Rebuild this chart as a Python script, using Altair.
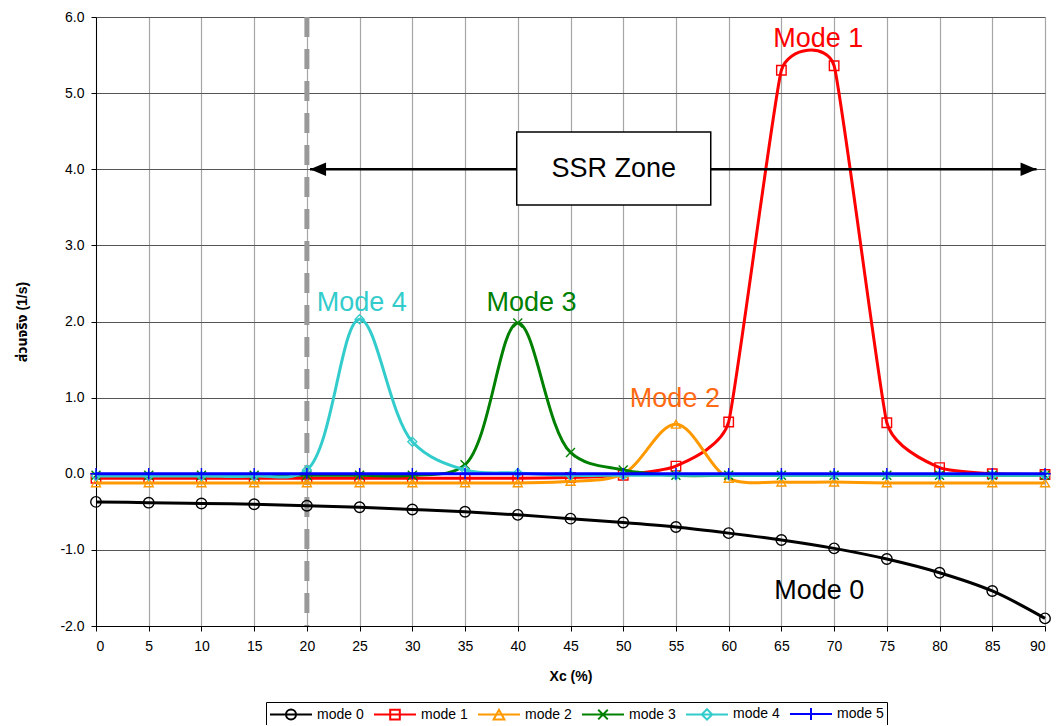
import altair as alt
import pandas as pd

# ---------------- data ----------------
xc = [0, 5, 10, 15, 20, 25, 30, 35, 40, 45, 50, 55, 60, 65, 70, 75, 80, 85, 90]
mode0 = [-0.37, -0.38, -0.39, -0.40, -0.42, -0.44, -0.47, -0.50, -0.54, -0.59,
         -0.64, -0.70, -0.78, -0.87, -0.98, -1.12, -1.30, -1.54, -1.90]
mode1 = [-0.06, -0.06, -0.06, -0.06, -0.06, -0.06, -0.06, -0.06, -0.06, -0.05,
         -0.02, 0.10, 0.68, 5.30, 5.36, 0.67, 0.08, 0.00, -0.01]
mode2 = [-0.12, -0.12, -0.12, -0.12, -0.12, -0.12, -0.12, -0.12, -0.12, -0.10,
         0.00, 0.65, -0.06, -0.11, -0.11, -0.12, -0.12, -0.12, -0.12]
mode3 = [-0.02, -0.02, -0.02, -0.02, -0.02, -0.02, -0.02, 0.12, 1.98, 0.28,
         0.05, -0.02, -0.02, -0.02, -0.02, -0.02, -0.02, -0.02, -0.02]
mode4 = [-0.03, -0.03, -0.03, -0.03, 0.05, 2.03, 0.42, 0.05, 0.01, -0.02,
         -0.02, -0.02, -0.02, -0.02, -0.02, -0.02, -0.02, -0.02, -0.02]
mode5 = [0.00] * 19

series_names = ["mode 0", "mode 1", "mode 2", "mode 3", "mode 4", "mode 5"]
series_values = [mode0, mode1, mode2, mode3, mode4, mode5]
series_colors = ["#000000", "#FF0000", "#FF9900", "#008000", "#33CCCC", "#0000FF"]
# smoothing style per series (Excel-like smoothed lines)
series_curve = [("catmull-rom", None), ("cardinal", 0.6), ("catmull-rom", None),
                ("catmull-rom", None), ("catmull-rom", None), ("catmull-rom", None)]
marker_shapes = ["circle", "square", "triangle-up",
                 "M-1,-1L1,1M-1,1L1,-1", "diamond", "M0,-1.2L0,1.2M-1.2,0L1.2,0"]
marker_sizes = [110, 90, 80, 80, 80, 90]
# legend glyphs: line segment + marker (scaled 8 px per unit, symbolSize 256)
legend_shapes = [
    "M-1,0L4.25,0M2.25,0A0.625,0.625 0 1,1 1,0A0.625,0.625 0 1,1 2.25,0",
    "M-1,0L4.25,0M1.025,-0.6L2.225,-0.6L2.225,0.6L1.025,0.6Z",
    "M-1,0L4.25,0M1.625,-0.6L2.3,0.6L0.95,0.6Z",
    "M-1,0L4.25,0M1.025,-0.6L2.225,0.6M1.025,0.6L2.225,-0.6",
    "M-1,0L4.25,0M1.625,-0.65L2.275,0L1.625,0.65L0.975,0Z",
    "M-1,0L4.25,0M1.625,-0.75L1.625,0.75",
]

y_ticks = [-2, -1, 0, 1, 2, 3, 4, 5, 6]

# annotations
label_text = ["Mode 1", "Mode 2", "Mode 3", "Mode 4", "Mode 0"]
label_x = [68.5, 54.9, 41.3, 25.2, 68.6]
label_y = [5.60, 0.88, 2.14, 2.14, -1.64]
label_color = ["#FF0000", "#FF6A13", "#008000", "#33CCCC", "#000000"]

ssr_text = "SSR Zone"
ssr_box_x = [39.9, 58.3]
ssr_box_y = [3.53, 4.49]
ssr_arrow_x = [20.3, 89.2]
ssr_arrow_y = 4.0
ssr_head_x = [21.06, 88.44]
divider_x = 20

FONT = "Liberation Sans"

rows = []
for i, (name, vals) in enumerate(zip(series_names, series_values)):
    for x, v in zip(xc, vals):
        rows.append({"xc": x, "val": v, "series": name, "idx": i})
df = pd.DataFrame(rows)

X_SCALE = alt.Scale(domain=[0, 90], nice=False, zero=False)
Y_SCALE = alt.Scale(domain=[-2, 6], nice=False, zero=False)

x_axis = alt.Axis(values=xc, title="Xc (%)", titleFontWeight="bold", titleFontSize=14,
                  titleFont=FONT, titleColor="black", titlePadding=16,
                  labelFont=FONT, labelFontSize=14, labelColor="black", labelPadding=8,
                  tickSize=5, tickColor="black", domainColor="black",
                  gridColor="#a6a6a6", gridWidth=1.2)
y_axis = alt.Axis(values=y_ticks, format=".1f", title="ส่วนจริง (1/s)",
                  labelExpr="replace(datum.label, '\u2212', '-')",
                  titleFontWeight="bold", titleFontSize=14,
                  titleFont=FONT + ", Noto Sans Thai, DejaVu Sans, sans-serif",
                  titleColor="black", titlePadding=30,
                  labelFont=FONT, labelFontSize=14, labelColor="black", labelPadding=7,
                  tickSize=5, tickColor="black", domainColor="black",
                  gridColor="#555555", gridWidth=1)

# dashed divider
div_df = pd.DataFrame({"xc": [divider_x], "val": [6], "val2": [-2]})
divider = alt.Chart(div_df).mark_rule(color="#999999", strokeWidth=5,
                                      strokeDash=[20, 12]).encode(
    x=alt.X("xc:Q", scale=X_SCALE, axis=x_axis),
    y=alt.Y("val:Q", scale=Y_SCALE, axis=y_axis),
    y2="val2:Q",
)

layers = [divider]
for i, name in enumerate(series_names):
    base = alt.Chart(df).transform_filter(alt.datum.series == name)
    interp, tens = series_curve[i]
    line_kw = dict(color=series_colors[i], strokeWidth=3, interpolate=interp)
    if tens is not None:
        line_kw["tension"] = tens
    line = base.mark_line(**line_kw).encode(
        x=alt.X("xc:Q", scale=X_SCALE), y=alt.Y("val:Q", scale=Y_SCALE))
    pts = base.mark_point(shape=marker_shapes[i], filled=False, color=series_colors[i],
                          size=marker_sizes[i], strokeWidth=1.4, opacity=1).encode(
        x=alt.X("xc:Q", scale=X_SCALE), y=alt.Y("val:Q", scale=Y_SCALE))
    layers += [line, pts]

# legend carrier (no visible marks)
legend_layer = alt.Chart(df).transform_filter("datum.val > 1000").mark_point(
    filled=False, strokeWidth=2).encode(
    color=alt.Color("series:N", scale=alt.Scale(domain=series_names, range=series_colors),
                    legend=alt.Legend(orient="none", legendX=170, legendY=685,
                                      direction="horizontal", columns=6, title=None,
                                      symbolSize=256, symbolStrokeWidth=2,
                                      symbolOpacity=1,
                                      labelFont=FONT, labelFontSize=14, labelColor="black",
                                      labelOffset=30, columnPadding=6, padding=3,
                                      strokeColor="black", fillColor="white")),
    shape=alt.Shape("series:N", scale=alt.Scale(domain=series_names, range=legend_shapes)),
)
layers.append(legend_layer)

# SSR zone arrow + box
arrow_df = pd.DataFrame({"xc": [ssr_arrow_x[0]], "xc2": [ssr_arrow_x[1]], "val": [ssr_arrow_y]})
arrow = alt.Chart(arrow_df).mark_rule(color="black", strokeWidth=2.5).encode(
    x=alt.X("xc:Q", scale=X_SCALE), x2="xc2:Q", y=alt.Y("val:Q", scale=Y_SCALE))
head_l = alt.Chart(pd.DataFrame({"xc": [ssr_head_x[0]], "val": [ssr_arrow_y]})).mark_point(
    shape="M-1,0L1,-0.85L1,0.85Z", filled=True, color="black", size=256, opacity=1).encode(
    x=alt.X("xc:Q", scale=X_SCALE), y=alt.Y("val:Q", scale=Y_SCALE))
head_r = alt.Chart(pd.DataFrame({"xc": [ssr_head_x[1]], "val": [ssr_arrow_y]})).mark_point(
    shape="M1,0L-1,-0.85L-1,0.85Z", filled=True, color="black", size=256, opacity=1).encode(
    x=alt.X("xc:Q", scale=X_SCALE), y=alt.Y("val:Q", scale=Y_SCALE))
box_df = pd.DataFrame({"xc": [ssr_box_x[0]], "xc2": [ssr_box_x[1]],
                       "val": [ssr_box_y[0]], "val2": [ssr_box_y[1]]})
box = alt.Chart(box_df).mark_rect(fill="white", stroke="black", strokeWidth=1.5).encode(
    x=alt.X("xc:Q", scale=X_SCALE), x2="xc2:Q",
    y=alt.Y("val:Q", scale=Y_SCALE), y2="val2:Q")
ssr_label = alt.Chart(pd.DataFrame({"xc": [sum(ssr_box_x) / 2], "val": [ssr_arrow_y],
                                    "t": [ssr_text]})).mark_text(
    font=FONT, fontSize=27, color="black", align="center", baseline="middle").encode(
    x=alt.X("xc:Q", scale=X_SCALE), y=alt.Y("val:Q", scale=Y_SCALE), text="t:N")
layers += [arrow, head_l, head_r, box, ssr_label]

lab_df = pd.DataFrame({"xc": label_x, "val": label_y, "t": label_text, "c": label_color})
labels = alt.Chart(lab_df).mark_text(font=FONT, fontSize=27, align="center",
                                     baseline="alphabetic").encode(
    x=alt.X("xc:Q", scale=X_SCALE), y=alt.Y("val:Q", scale=Y_SCALE), text="t:N",
    color=alt.Color("c:N", scale=None))
layers.append(labels)

chart = alt.layer(*layers).resolve_scale(color="independent", shape="independent").properties(
    width=949, height=609,
    autosize=alt.AutoSizeParams(type="none"),
    padding={"left": 96, "top": 17, "right": 12, "bottom": 99},
    background="white",
).configure_view(strokeWidth=0)

chart.save("out.html", embed_options={"renderer": "svg", "actions": False})
